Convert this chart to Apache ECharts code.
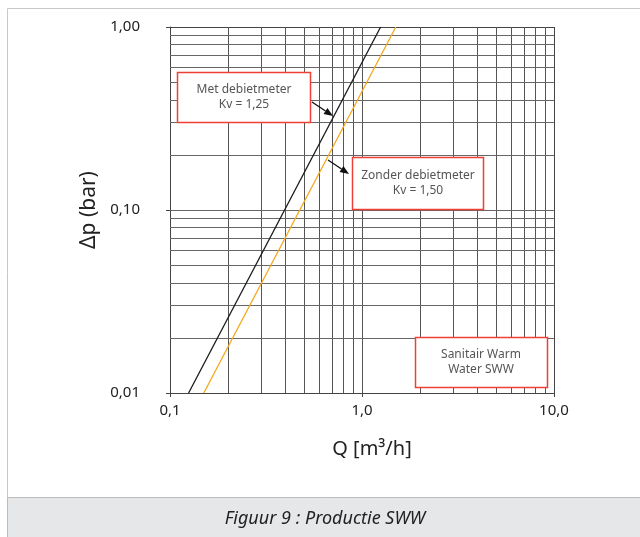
<!DOCTYPE html>
<html>
<head>
<meta charset="utf-8">
<script src="https://cdn.jsdelivr.net/npm/echarts@6/dist/echarts.min.js"></script>
<style>
	html, body { margin: 0; padding: 0; background: #fff; }
	#chart { width: 640px; height: 537px; }
</style>
</head>
<body>
<div id="chart"></div>
<script>
// data (log-log, dp = (Q/Kv)^2)
var metQ = [0.125, 1.25];
var metDp = [0.01, 1.0];
var zonderQ = [0.15, 1.5];
var zonderDp = [0.01, 1.0];

// grid lines and tick labels
var gridQ = [0.2, 0.3, 0.4, 0.5, 0.6, 0.7, 0.8, 0.9, 1, 2, 3, 4, 5, 6, 7, 8, 9];
var gridDp = [0.02, 0.03, 0.04, 0.05, 0.06, 0.07, 0.08, 0.09, 0.1, 0.2, 0.3, 0.4, 0.5, 0.6, 0.7, 0.8, 0.9];
var qTickVals = [0.1, 1, 10];
var qTickLabels = ['0,1', '1,0', '10,0'];
var dpTickVals = [0.01, 0.1, 1];
var dpTickLabels = ['0,01', '0,10', '1,00'];

function pickLabel(vals, labels) {
	return function (v) {
		for (var i = 0; i < vals.length; i++) {
			if (Math.abs(Math.log10(v) - Math.log10(vals[i])) < 1e-6) return labels[i];
		}
		return '';
	};
}

function pairs(xs, ys) {
	var out = [];
	for (var i = 0; i < xs.length; i++) out.push([xs[i], ys[i]]);
	return out;
}

var fontFam = '"Noto Sans", "Open Sans", sans-serif';
var boxText = { fill: '#555', fontSize: 12, fontFamily: fontFam, align: 'center', verticalAlign: 'middle', lineHeight: 15 };
var boxStyle = { fill: '#fff', stroke: '#ee4036', lineWidth: 1.5 };

function arrow(x1, y1, x2, y2) {
	var ang = Math.atan2(y2 - y1, x2 - x1), L = 9, W = 3.5;
	var bx = x2 - L * Math.cos(ang), by = y2 - L * Math.sin(ang);
	var nx = -Math.sin(ang) * W, ny = Math.cos(ang) * W;
	return [
		{ type: 'line', shape: { x1: x1, y1: y1, x2: bx, y2: by }, style: { stroke: '#111', lineWidth: 1.3 }, z: 20 },
		{ type: 'polygon', shape: { points: [[x2, y2], [bx + nx, by + ny], [bx - nx, by - ny]] }, style: { fill: '#111' }, z: 20 }
	];
}

var chart = echarts.init(document.getElementById('chart'));
var graphics = [
	// outer frame
	{ type: 'polyline', shape: { points: [[7.5, 537], [7.5, 8.5], [640, 8.5]] }, style: { stroke: '#c8c8c8', lineWidth: 1, fill: null }, z: 0 },
	// caption band
	{ type: 'rect', shape: { x: 7.5, y: 497.5, width: 640, height: 40 }, style: { fill: '#e6e7e9', stroke: '#bcbcbc', lineWidth: 1 }, z: 0 },
	{ type: 'text', x: 325, y: 519, style: { text: 'Figuur 9 : Productie SWW', fill: '#222', fontSize: 18, fontStyle: 'italic', fontFamily: fontFam, align: 'center', verticalAlign: 'middle' }, z: 1 },
	// annotation boxes
	{ type: 'rect', shape: { x: 177.5, y: 72.5, width: 133, height: 50 }, style: boxStyle, z: 10 },
	{ type: 'text', x: 244, y: 97, style: Object.assign({ text: 'Met debietmeter\nKv = 1,25' }, boxText), z: 11 },
	{ type: 'rect', shape: { x: 352.5, y: 157.5, width: 131, height: 52 }, style: boxStyle, z: 10 },
	{ type: 'text', x: 418, y: 183, style: Object.assign({ text: 'Zonder debietmeter\nKv = 1,50' }, boxText), z: 11 },
	{ type: 'rect', shape: { x: 415.5, y: 337.5, width: 132, height: 50 }, style: boxStyle, z: 10 },
	{ type: 'text', x: 481, y: 362, style: Object.assign({ text: 'Sanitair Warm\nWater SWW' }, boxText), z: 11 }
].concat(arrow(312, 102, 333, 116)).concat(arrow(328, 160, 349, 174));

var option = {
	animation: false,
	backgroundColor: '#fff',
	grid: { left: 170, right: 86, top: 27, bottom: 144, containLabel: false },
	xAxis: {
		type: 'log', logBase: 10, min: 0.1, max: 10,
		name: 'Q [m³/h]', nameLocation: 'middle', nameGap: 46,
		nameTextStyle: { fontSize: 20, color: '#222', fontFamily: fontFam, padding: [0, 0, 0, 20] },
		axisLine: { show: true, lineStyle: { color: '#444', width: 1 } },
		axisTick: { show: true, length: 4, lineStyle: { color: '#444' } },
		axisLabel: { fontSize: 15, color: '#222', margin: 10, fontFamily: fontFam, formatter: pickLabel(qTickVals, qTickLabels) },
		splitLine: { show: true, lineStyle: { color: '#444', width: 1 } }
	},
	yAxis: {
		type: 'log', logBase: 10, min: 0.01, max: 1,
		name: 'Δp (bar)', nameLocation: 'middle', nameGap: 70, nameRotate: 90,
		nameTextStyle: { fontSize: 21, color: '#222', fontFamily: fontFam },
		axisLine: { show: true, lineStyle: { color: '#444', width: 1 } },
		axisTick: { show: true, length: 4, lineStyle: { color: '#444' } },
		axisLabel: { fontSize: 15, color: '#222', margin: 30, fontFamily: fontFam, formatter: pickLabel(dpTickVals, dpTickLabels) },
		splitLine: { show: true, lineStyle: { color: '#444', width: 1 } }
	},
	graphic: graphics,
	series: [
		{
			name: 'grid',
			type: 'line',
			data: [],
			silent: true,
			markLine: {
				silent: true,
				symbol: ['none', 'none'],
				label: { show: false },
				lineStyle: { color: '#555', width: 1, type: 'solid' },
				data: gridQ.map(function (q) { return { xAxis: q }; })
					.concat(gridDp.map(function (d) { return { yAxis: d, lineStyle: { color: '#666' } }; }))
			}
		},
		{
			name: 'Met debietmeter',
			type: 'line',
			data: pairs(metQ, metDp),
			showSymbol: false,
			lineStyle: { color: '#1a1a1a', width: 1.3 },
			z: 5
		},
		{
			name: 'Zonder debietmeter',
			type: 'line',
			data: pairs(zonderQ, zonderDp),
			showSymbol: false,
			lineStyle: { color: '#f5a81c', width: 1.3 },
			z: 5
		}
	]
};
chart.setOption(option);
</script>
</body>
</html>
